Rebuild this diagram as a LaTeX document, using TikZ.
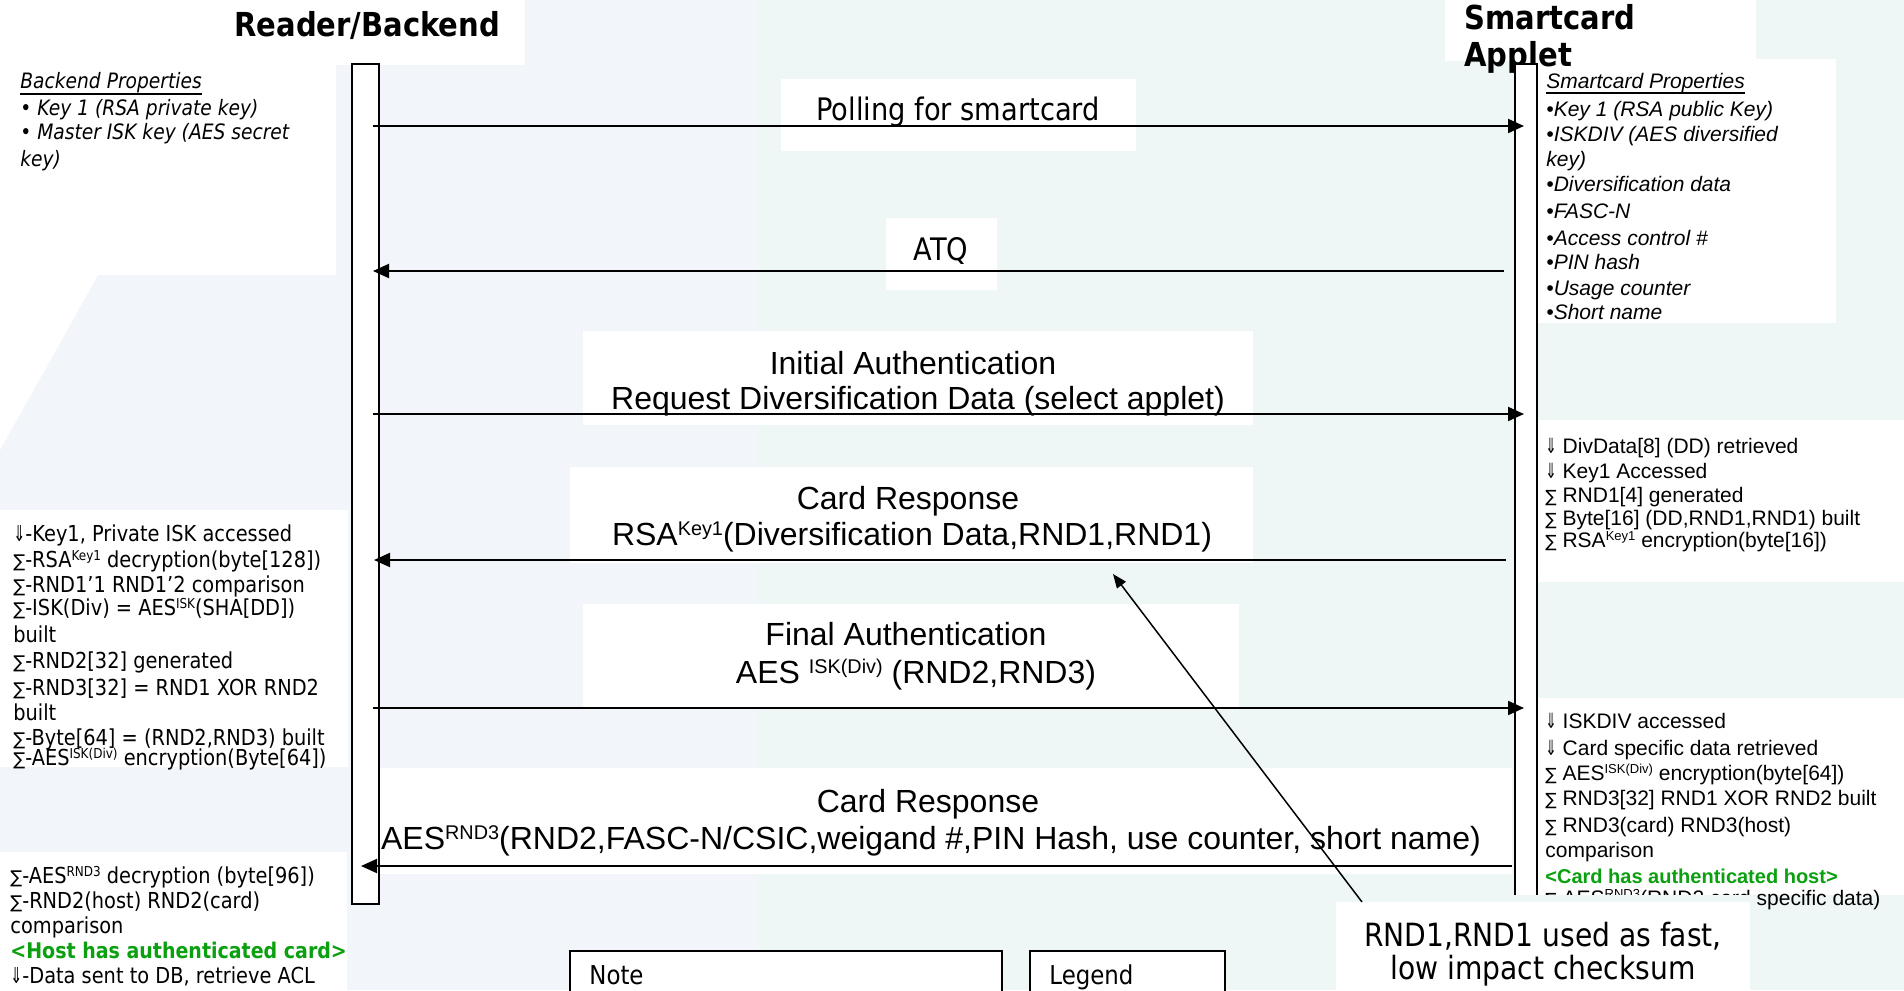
\documentclass[tikz,border=0pt]{standalone}
\usepackage{fontspec}
\usepackage{graphicx}
\usetikzlibrary{arrows.meta}
\setmainfont{Liberation Sans}
\newfontfamily\tah[FakeStretch=0.88]{DejaVu Sans}
\newfontfamily\ari{Liberation Sans}
\newfontfamily\djv{DejaVu Sans}
\newcommand\dar{{\djv\scalebox{0.65}[1]{⇓}}}
\newcommand\dsum{{\djv\scalebox{0.8}{∑}}}
\newcommand\sps[1]{\raisebox{0.55ex}{\scalebox{0.62}{#1}}}
\definecolor{bgblue}{HTML}{F2F5FA}
\definecolor{bggreen}{HTML}{EFF6F6}
\definecolor{okgreen}{HTML}{0AA00F}
\tikzset{
 ln/.style={anchor=base west, inner sep=0pt},
 lc/.style={anchor=base, inner sep=0pt},
 ttl/.style={ln, font=\tah\bfseries\fontsize{16.5pt}{20pt}\selectfont},
 bprop/.style={ln, font=\tah\itshape\fontsize{10.6pt}{12.5pt}\selectfont},
 sprop/.style={ln, font=\ari\itshape\fontsize{10.5pt}{12.5pt}\selectfont},
 lnote/.style={ln, font=\tah\fontsize{11pt}{13pt}\selectfont},
 rnote/.style={ln, font=\ari\fontsize{10.5pt}{12.5pt}\selectfont},
 lab/.style={lc, font=\ari\fontsize{16pt}{19pt}\selectfont},
 tlab/.style={lc, font=\tah\fontsize{15.5pt}{19pt}\selectfont},
 notefont/.style={ln, font=\tah\fontsize{13pt}{15pt}\selectfont},
 msg/.style={line width=1pt, -{Triangle[length=8pt,width=7pt]}},
 life/.style={draw=black, line width=1pt, fill=white, inner sep=0pt, anchor=north west},
 frame/.style={draw=black, line width=0.9pt, fill=white},
 uline/.style={line width=0.8pt},
}
\begin{document}
\begin{tikzpicture}[x=0.5pt,y=-0.5pt]
\useasboundingbox (0,0) rectangle (1904,990);
% background
\fill[bgblue] (0,0) rectangle (757,990);
\fill[bggreen] (757,0) rectangle (1904,990);
\fill[white] (0,275) -- (98,275) -- (0,450) -- cycle;
% white panels
\fill[white] (0,0) rectangle (525,65);
\fill[white] (0,65) rectangle (336,275);
\fill[white] (1537,59) rectangle (1836,323);
\fill[white] (1445,0) rectangle (1756,61);
\fill[white] (0,510) rectangle (348,767);
\fill[white] (0,852) rectangle (347,990);
\fill[white] (1536,420) rectangle (1904,582);
\fill[white] (1536,698) rectangle (1904,895);
\fill[white] (781,79) rectangle (1136,151);
\fill[white] (886,218) rectangle (997,290);
\fill[white] (583,331) rectangle (1253,425);
\fill[white] (570,467) rectangle (1253,563);
\fill[white] (583,604) rectangle (1239,707);
\fill[white] (378,768) rectangle (1512,874);

% titles
\node[ttl] (t1) at (234,37) {Reader/Backend};
\node[ttl] (t2) at (1464,30) {Smartcard};
\node[ttl] (t3) at (1464,67) {Applet};

% backend properties
\node[bprop] (bp) at (20,89) {Backend Properties};
\draw[uline] ([yshift=-2.5pt]bp.base west) -- ([yshift=-2.5pt]bp.base east);
\node[bprop] (bp1) at (20,116) {• Key 1 (RSA private key)};
\node[bprop] (bp2) at (20,140) {• Master ISK key (AES secret};
\node[bprop] (bp3) at (20,166) {key)};

% smartcard properties
\node[sprop] (sp) at (1546,89) {Smartcard Properties};
\draw[uline] ([yshift=-2pt]sp.base west) -- ([yshift=-2pt]sp.base east);
\node[sprop] (sp1) at (1546,117) {•Key 1 (RSA public Key)};
\node[sprop] (sp2) at (1546,141) {•ISKDIV (AES diversified};
\node[sprop] (sp3) at (1546,166) {key)};
\node[sprop] (sp4) at (1546,191) {•Diversification data};
\node[sprop] (sp5) at (1546,218) {•FASC-N};
\node[sprop] (sp6) at (1546,245) {•Access control \#};
\node[sprop] (sp7) at (1546,269) {•PIN hash};
\node[sprop] (sp8) at (1546,295) {•Usage counter};
\node[sprop] (sp9) at (1546,319) {•Short name};

% left notes 1
\node[lnote] (l1) at (13,541) {\dar-Key1, Private ISK accessed};
\node[lnote] (l2) at (13,567) {\dsum-RSA\sps{Key1} decryption(byte[128])};
\node[lnote] (l3) at (13,592) {\dsum-RND1’1 RND1’2 comparison};
\node[lnote] (l4) at (13,615) {\dsum-ISK(Div) = AES\sps{ISK}(SHA[DD])};
\node[lnote] (l5) at (13,642) {built};
\node[lnote] (l6) at (13,668) {\dsum-RND2[32] generated};
\node[lnote] (l7) at (13,695) {\dsum-RND3[32] = RND1 XOR RND2};
\node[lnote] (l8) at (13,720) {built};
\node[lnote] (l9) at (13,745) {\dsum-Byte[64] = (RND2,RND3) built};
\node[lnote] (l10) at (13,765) {\dsum-AES\sps{ISK(Div)} encryption(Byte[64])};

% left notes 2
\node[lnote] (k1) at (10,883) {\dsum-AES\sps{RND3} decryption (byte[96])};
\node[lnote] (k2) at (10,908) {\dsum-RND2(host) RND2(card)};
\node[lnote] (k3) at (10,933) {comparison};
\node[lnote, text=okgreen, font=\tah\bfseries\fontsize{10.8pt}{12.5pt}\selectfont] (k4) at (10,958) {<Host has authenticated card>};
\node[lnote] (k5) at (10,983) {\dar-Data sent to DB, retrieve ACL};

% right notes 1
\node[rnote] (r1) at (1545,453) {\dar\ DivData[8] (DD) retrieved};
\node[rnote] (r2) at (1545,478) {\dar\ Key1 Accessed};
\node[rnote] (r3) at (1545,502) {\dsum\ RND1[4] generated};
\node[rnote] (r4) at (1545,525) {\dsum\ Byte[16] (DD,RND1,RND1) built};
\node[rnote] (r5) at (1545,547) {\dsum\ RSA\sps{Key1} encryption(byte[16])};

% right notes 2
\node[rnote] (s1) at (1545,728) {\dar\ ISKDIV accessed};
\node[rnote] (s2) at (1545,755) {\dar\ Card specific data retrieved};
\node[rnote] (s3) at (1545,780) {\dsum\ AES\sps{ISK(Div)} encryption(byte[64])};
\node[rnote] (s4) at (1545,805) {\dsum\ RND3[32] RND1 XOR RND2 built};
\node[rnote] (s5) at (1545,832) {\dsum\ RND3(card) RND3(host)};
\node[rnote] (s6) at (1545,857) {comparison};
\node[rnote, text=okgreen, font=\ari\bfseries\fontsize{10pt}{12pt}\selectfont] (s7) at (1545,883) {<Card has authenticated host>};
\node[rnote] (s8) at (1545,905) {\dsum\ AES\sps{RND3}(RND2 card specific data)};

% message labels
\node[tlab] (m1) at (958,120) {Polling for smartcard};
\node[tlab] (m2) at (941,260) {ATQ};
\node[lab] (m3a) at (913,374) {Initial Authentication};
\node[lab] (m3b) at (918,409) {Request Diversification Data (select applet)};
\node[lab] (m4a) at (908,509) {Card Response};
\node[lab] (m4b) at (912,545) {RSA\sps{Key1}(Diversification Data,RND1,RND1)};
\node[lab] (m5a) at (906,645) {Final Authentication};
\node[lab] (m5b) at (916,683) {AES \sps{ISK(Div)} (RND2,RND3)};
\node[lab] (m6a) at (928,812) {Card Response};
\node[lab] (m6b) at (931,849) {AES\sps{RND3}(RND2,FASC-N/CSIC,weigand \#,PIN Hash, use counter, short name)};

% lifelines
\node[life, minimum width=13.5pt, minimum height=420pt] (LB) at (351,63) {};
\node[life, minimum width=11pt, minimum height=418.5pt] (LS) at (1514,63) {};

% message arrows
\coordinate (a1) at (373,126);  \coordinate (b1) at (1524,126);
\coordinate (a2) at (1504,271); \coordinate (b2) at (373,271);
\coordinate (a3) at (373,414);  \coordinate (b3) at (1524,414);
\coordinate (a4) at (1506,560); \coordinate (b4) at (374,560);
\coordinate (a5) at (373,708);  \coordinate (b5) at (1524,708);
\coordinate (a6) at (1512,866); \coordinate (b6) at (361,866);
\draw[msg] (a1) -- (b1);
\draw[msg] (a2) -- (b2);
\draw[msg] (a3) -- (b3);
\draw[msg] (a4) -- (b4);
\draw[msg] (a5) -- (b5);
\draw[msg] (a6) -- (b6);

% callout
\fill[bggreen] (1336,895) rectangle (1750,990);
\fill[white] (1336,902) rectangle (1750,990);
\node[tlab, font=\tah\fontsize{16pt}{19pt}\selectfont] (c1) at (1543,946) {RND1,RND1 used as fast,};
\node[tlab, font=\tah\fontsize{16pt}{19pt}\selectfont] (c2) at (1543,979) {low impact checksum};
\coordinate (cs) at (1362,902);
\coordinate (ce) at (1113,574);
\draw[line width=0.75pt, -{Triangle[length=7pt,width=5.5pt]}] (cs) -- (ce);

% note and legend
\draw[frame] (570,951) rectangle (1002,1000);
\draw[frame] (1030,951) rectangle (1225,1000);
\node[notefont] (n1) at (589,984) {Note};
\node[notefont] (n2) at (1049,984) {Legend};
\end{tikzpicture}
\end{document}
